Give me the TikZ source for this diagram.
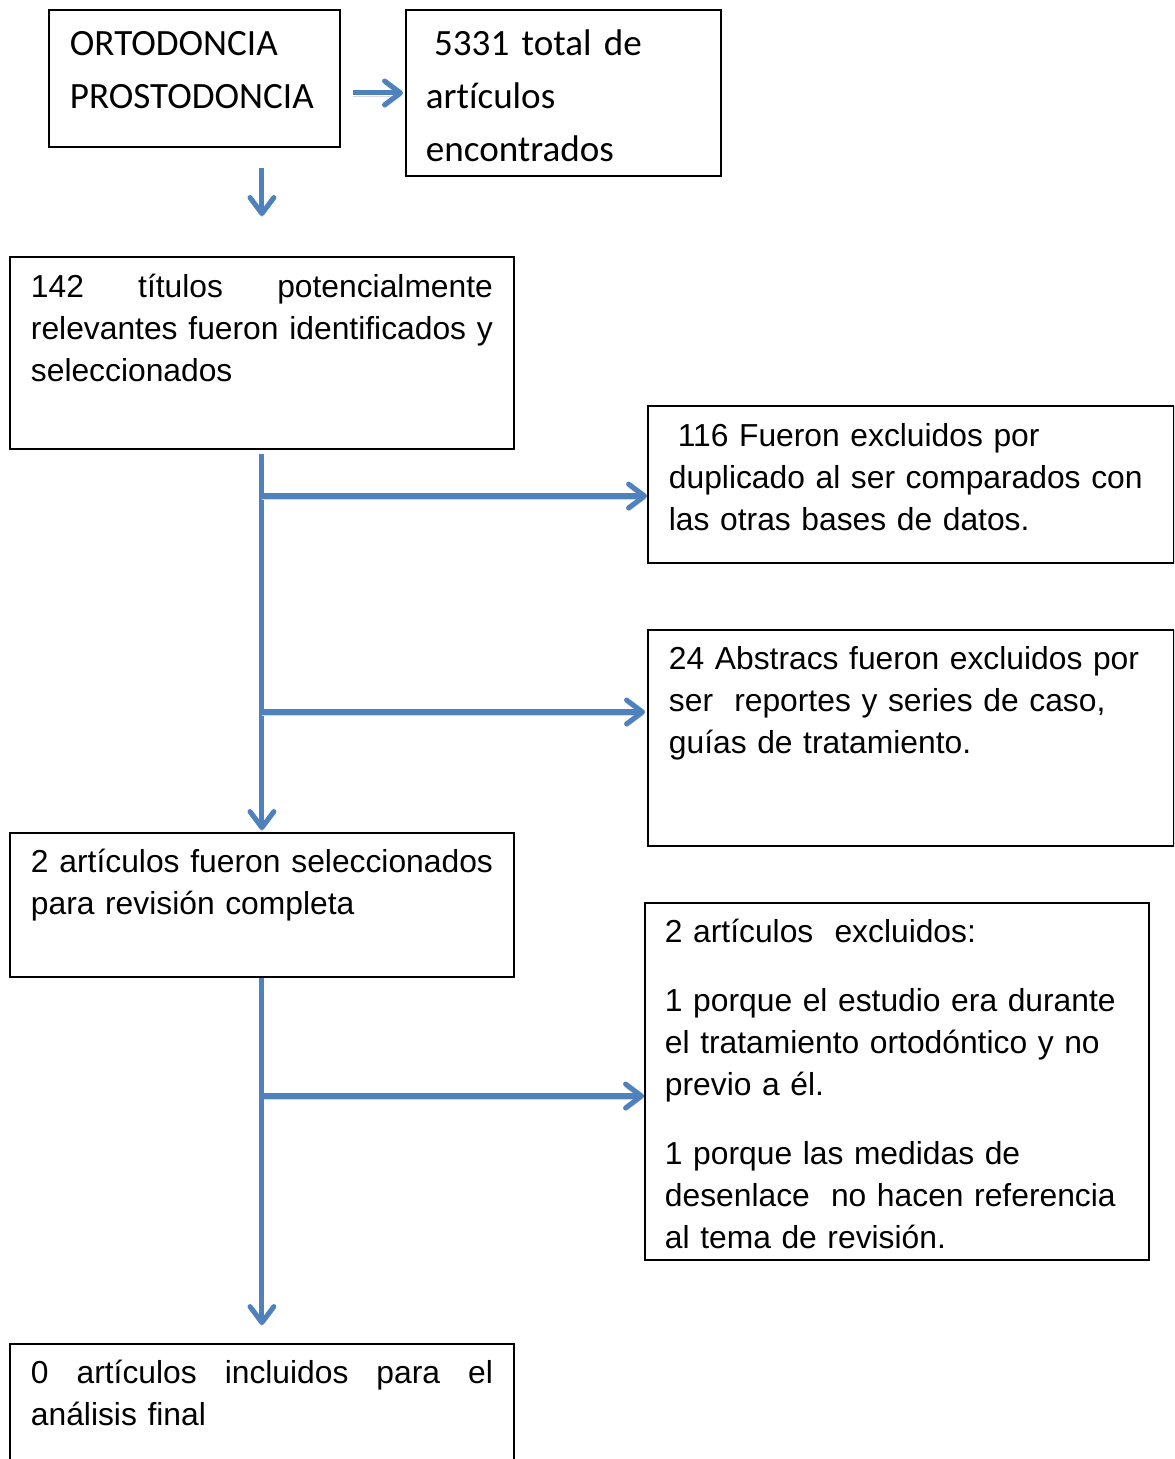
\documentclass[tikz,border=0pt]{standalone}
\usepackage{fontspec}
\setmainfont{Liberation Sans}
\newfontfamily\calibri[Ligatures=NoCommon]{Carlito}
\usepackage{tikz}
\usetikzlibrary{
  arrows.meta,%
  positioning
}
\definecolor{azul}{HTML}{4F81BD}
\newlength\px
\setlength\px{0.3774pt}
\hyphenpenalty=10000
\tikzset{>={Straight Barb[length=6pt,width=9pt,line cap=round,line join=round]}}
\tikzset{
  caja/.style={draw=black, line width=0.7pt, anchor=north west,
    inner ysep=0pt, align=left, font=\fontsize{12}{15.85}\selectfont},
  cajacal/.style={caja, font=\calibri\fontsize{14}{20}\selectfont},
  flecha/.style={->, draw=azul, line width=1.9pt,
    preaction={draw=black!15, transform canvas={yshift=-1.2pt}}}
}

\begin{document}
\begin{tikzpicture}[x=\px, y=-\px]
  \useasboundingbox (0,0) rectangle (1174,1459);
  \clip (0,0) rectangle (1174,1459);
  % cajas
  \node[cajacal, text width=249\px, inner xsep=21\px, text height=46\px, text depth=91\px]
    (ortopro) at (48,9) {ORTODONCIA\\PROSTODONCIA};
  \node[cajacal, text width=275\px, inner xsep=20\px, text height=46\px, text depth=120\px]
    (total) at (405,9) {\hspace*{.22em}5331 total de\\art\'iculos\\encontrados};
  \node[caja, text width=462\px, inner xsep=21\px, text height=41\px, text depth=151\px]
    (titulos) at (9,256) {142\hfill títulos\hfill potencialmente\\
      relevantes\hfill fueron\hfill identificados\hfill y\\seleccionados};
  \node[caja, text width=484\px, inner xsep=21\px, text height=41\px, text depth=116\px]
    (duplicados) at (647,405) {\hspace*{.28em}116 Fueron excluidos por\\
      duplicado al ser comparados con\\las otras bases de datos.};
  \node[caja, text width=484\px, inner xsep=21\px, text height=40\px, text depth=176\px]
    (abstracs) at (647,629) {24 Abstracs fueron excluidos por\\
      ser\ \ reportes y series de caso,\\guías de tratamiento.};
  \node[caja, text width=462\px, inner xsep=21\px, text height=40\px, text depth=104\px]
    (revision) at (9,832) {2\hfill artículos\hfill fueron\hfill seleccionados\\
      para revisión completa};
  \node[caja, text width=464\px, inner xsep=20\px, text height=40\px, text depth=317\px]
    (excluidos) at (644,902) {2 artículos\ \ excluidos:\\[27\px]
      1 porque el estudio era durante\\el tratamiento ortodóntico y no\\previo a él.\\[27\px]
      1 porque las medidas de\\desenlace\ \ no hacen referencia\\al tema de revisión.};
  \node[caja, text width=462\px, inner xsep=21\px, text height=40\px, text depth=120\px]
    (final) at (9,1343) {0\hfill artículos\hfill incluidos\hfill para\hfill el\\análisis final};
  % conectores
  \draw[flecha, shorten <=12\px, shorten >=2\px] (ortopro.east |- total.west) -- (total.west);
  \draw[flecha, shorten <=20\px, shorten >=40\px] (titulos.north |- ortopro.south) -- (titulos.north);
  \draw[flecha, shorten <=4\px, shorten >=2\px] (titulos.south) -- (revision.north);
  \coordinate (rama1) at (titulos.south |- 0,496);
  \coordinate (rama2) at (titulos.south |- 0,712);
  \coordinate (rama3) at (revision.south |- 0,1096);
  \draw[flecha] (rama1) -- (rama1 -| duplicados.west);
  \draw[flecha, shorten >=2\px] (rama2) -- (rama2 -| abstracs.west);
  \draw[flecha] (rama3) -- (rama3 -| excluidos.west);
  \draw[flecha, shorten >=18\px] (revision.south) -- (final.north);
\end{tikzpicture}
\end{document}
